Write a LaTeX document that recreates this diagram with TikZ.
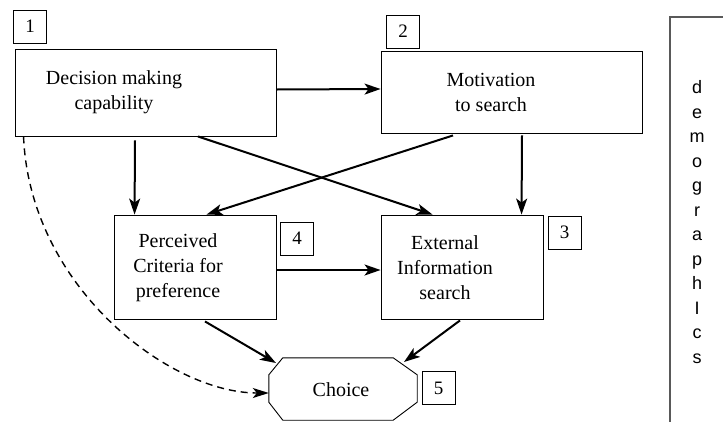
\documentclass[tikz,border=0pt]{standalone}
\usepackage{fontspec}
\setmainfont{Liberation Serif}
\newfontfamily\demofont{Liberation Sans}
\usetikzlibrary{arrows.meta}

\begin{document}
\begin{tikzpicture}[x=1pt,y=-1pt,
  box/.style={draw, line width=0.9pt, inner sep=0pt, rectangle},
  numbox/.style={draw, line width=0.9pt, inner sep=0pt, minimum width=33pt, minimum height=33pt,
    font=\fontsize{19}{23}\selectfont},
  boxtext/.style={align=center, inner sep=0pt, font=\fontsize{20}{25}\selectfont},
  link/.style={line width=2pt, -{Stealth[length=16pt,width=11pt,inset=4pt]}},
  dlink/.style={line width=1.4pt, dash pattern=on 7pt off 5pt, -{Stealth[length=16pt,width=10pt,inset=4pt]}}
]
\useasboundingbox (0,0) rectangle (723,421);

% main boxes
\node[box, minimum width=261pt, minimum height=87pt] (A) at (145.5,92.5) {};
\node[box, minimum width=261pt, minimum height=82pt] (B) at (511.5,92) {};
\node[box, minimum width=162pt, minimum height=104pt] (C) at (195,267) {};
\node[box, minimum width=162pt, minimum height=104pt] (D) at (462,267) {};

% octagonal choice node: a frame node with its cut corners drawn around it
\node[inner sep=0pt, minimum width=148pt, minimum height=62pt] (E) at (343,389) {};
\draw[line width=0.9pt]
  ([xshift=14pt]E.north west) -- ([xshift=-24pt]E.north east)
  -- ([yshift=-17pt]E.north east) -- ([yshift=18pt]E.south east)
  -- ([xshift=-24pt]E.south east) -- ([xshift=14pt]E.south west)
  -- ([yshift=18pt]E.south west) -- ([yshift=-17pt]E.north west) -- cycle;

% box texts
\node[boxtext] (Atext) at (114,92) {Decision making\\capability};
\node[boxtext] (Btext) at (491,92) {Motivation\\to search};
\node[boxtext] (Ctext) at (178,268) {Perceived\\Criteria for\\preference};
\node[boxtext] (Dtext) at (445,268) {External\\Information\\search};
\node[boxtext] (Etext) at (341,390) {Choice};

% number tags
\node[numbox] (n1) at (30,26.5) {1};
\node[numbox] (n2) at (403,31.5) {2};
\node[numbox] (n4) at (297,238.5) {4};
\node[numbox] (n3) at (564.5,232.5) {3};
\node[numbox] (n5) at (438.5,388) {5};

% demographics panel
\coordinate (dtop) at (730,17);
\coordinate (dcorner) at (670,17);
\coordinate (dbot) at (670,425);
\draw[line width=1.4pt, black!65] (dtop) -- (dcorner) -- (dbot);
\node[align=center, inner sep=0pt, font=\demofont\fontsize{18}{24.5}\selectfont] (demo) at (697,222)
  {d\\e\\m\\o\\g\\r\\a\\p\\h\\I\\c\\s};

% connectors
\draw[link] ([yshift=3pt]A.east) -- ([yshift=3pt]B.west);
\draw[link] ([xshift=-10.5pt,yshift=-4pt]A.south) -- ([xshift=21pt]C.north west);
\draw[link] ([xshift=52.5pt]A.south) -- ([xshift=52pt]D.north west);
\draw[link] ([xshift=-58.5pt,yshift=-2pt]B.south) -- ([xshift=93pt]C.north west);
\draw[link] ([xshift=10.5pt,yshift=-2pt]B.south) -- ([xshift=141pt]D.north west);
\draw[link] ([yshift=-3pt]C.east) -- ([yshift=-3pt]D.west);
\draw[link] ([xshift=10pt,yshift=-2pt]C.south) -- ([xshift=-67pt,yshift=26pt]E.center);
\draw[link] ([xshift=-2pt,yshift=-1pt]D.south) -- ([xshift=61pt,yshift=27pt]E.center);
\draw[dlink] ([xshift=9pt]A.south west) .. controls +(6,150) and +(-100,0) .. ([yshift=-4pt]E.west);
\end{tikzpicture}
\end{document}
